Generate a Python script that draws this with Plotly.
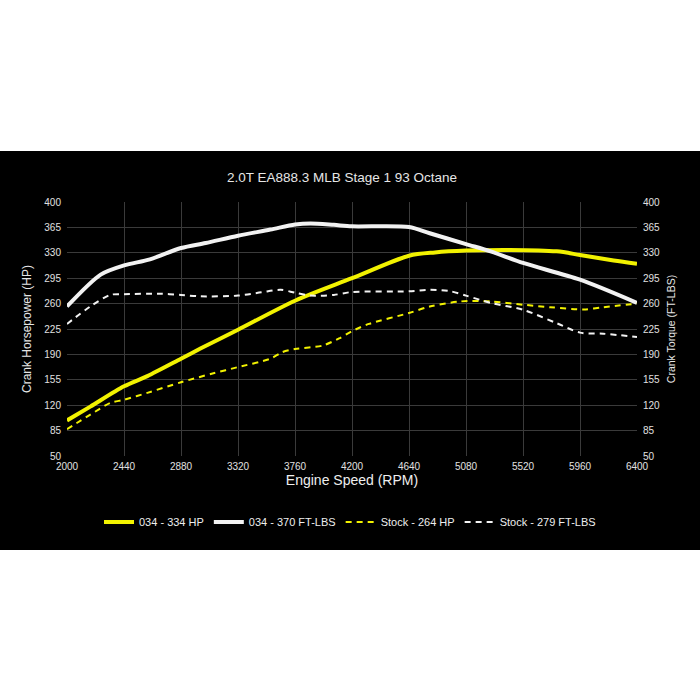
import plotly.graph_objects as go

rpm_hp034 = [2000, 2180, 2440, 2620, 2880, 3030, 3320, 3760, 4200, 4640, 4840, 5080, 5420, 5780, 5960, 6220, 6400]
hp034 = [99, 118, 146, 160, 184, 198, 224, 264, 295, 326, 330.5, 333, 334, 332, 327, 319.5, 315]

rpm_tq034 = [2000, 2260, 2440, 2640, 2880, 3070, 3320, 3570, 3760, 3880, 4060, 4200, 4640, 4800, 5080, 5270, 5520, 5960, 6400]
tq034 = [256, 300, 312.6, 321, 336.6, 343.5, 353.5, 362, 369, 370.5, 368.5, 366.5, 365.6, 357, 342, 332, 316, 293, 261]

rpm_hpstk = [2000, 2180, 2334, 2440, 2620, 2880, 3130, 3320, 3570, 3660, 3760, 3970, 4100, 4200, 4330, 4640, 4800, 5040, 5270, 5520, 5730, 5990, 6140, 6400]
hpstk = [87, 107, 123, 127.5, 137, 151.6, 164, 172.5, 184, 193, 197.5, 202, 212, 222, 232, 247, 256, 263, 263, 258.5, 255, 252, 255, 260]

rpm_tqstk = [2000, 2180, 2334, 2440, 2720, 2880, 3030, 3320, 3500, 3650, 3760, 3880, 4060, 4200, 4640, 4800, 4960, 5080, 5270, 5520, 5780, 5960, 6140, 6400]
tqstk = [232, 256, 272, 273, 273.5, 272, 270, 271, 275.5, 279, 275, 271, 272, 276, 277, 279, 277, 271, 261, 251.5, 233, 220, 218.5, 214]

x_ticks = [2000, 2440, 2880, 3320, 3760, 4200, 4640, 5080, 5520, 5960, 6400]
y_ticks = [50, 85, 120, 155, 190, 225, 260, 295, 330, 365, 400]

YEL = "#f2f200"
WHT = "#f2f2f2"

fig = go.Figure()
fig.add_trace(go.Scatter(x=rpm_hp034, y=hp034, mode="lines", name="034 - 334 HP",
                         line=dict(color=YEL, width=4, shape="spline", smoothing=0.8)))
fig.add_trace(go.Scatter(x=rpm_tq034, y=tq034, mode="lines", name="034 - 370 FT-LBS",
                         line=dict(color=WHT, width=4, shape="spline", smoothing=0.8)))
fig.add_trace(go.Scatter(x=rpm_hpstk, y=hpstk, mode="lines", name="Stock - 264 HP",
                         line=dict(color=YEL, width=2, dash="6px,5px", shape="spline", smoothing=0.8)))
fig.add_trace(go.Scatter(x=rpm_tqstk, y=tqstk, mode="lines", name="Stock - 279 FT-LBS",
                         line=dict(color=WHT, width=2, dash="6px,5px", shape="spline", smoothing=0.8)))
# invisible trace to activate right axis
fig.add_trace(go.Scatter(x=[2000, 6400], y=[50, 400], yaxis="y2", mode="lines",
                         line=dict(width=0), showlegend=False, hoverinfo="skip"))

L, R, T, B = 67, 63, 202, 244
ph = 700 - T - B
pw = 700 - L - R

fig.add_shape(type="rect", xref="paper", yref="paper",
              x0=-L / pw, x1=(700 - L) / pw,
              y0=-(550 - (700 - B)) / ph,
              y1=((700 - B) - 151) / ph,
              fillcolor="black", line_width=0, layer="below")

fig.update_layout(
    width=700, height=700,
    paper_bgcolor="white", plot_bgcolor="black",
    margin=dict(l=L, r=R, t=T, b=B),
    font=dict(family="Liberation Sans, Arial, sans-serif", color="#dddddd"),
    title=dict(text="2.0T EA888.3 MLB Stage 1 93 Octane", x=(342 - L) / pw, xref="paper",
               xanchor="center", y=1 - 177 / 700, yanchor="middle",
               font=dict(size=13.5, color="#e6e6e6")),
    xaxis=dict(range=[2000, 6400], tickvals=x_ticks, ticktext=[str(v) for v in x_ticks],
               showgrid=True, gridcolor="#3a3a3a", gridwidth=1, zeroline=False,
               showline=False, ticks="", tickfont=dict(size=10, color="#e0e0e0"),
               ticklabelstandoff=3,
               title=dict(text="Engine Speed (RPM)", font=dict(size=14, color="#eeeeee"), standoff=1)),
    yaxis=dict(range=[50, 400], tickvals=y_ticks, showgrid=True, gridcolor="#3a3a3a",
               zeroline=False, showline=False, ticks="", tickfont=dict(size=10, color="#e0e0e0"),
               ticklabelstandoff=5,
               title=dict(text="Crank Horsepower (HP)", font=dict(size=12, color="#e6e6e6"), standoff=10)),
    yaxis2=dict(range=[50, 400], tickvals=y_ticks, overlaying="y", side="right", showgrid=False,
                zeroline=False, showline=False, ticks="", tickfont=dict(size=10, color="#e0e0e0"),
                ticklabelstandoff=5,
                title=dict(text="Crank Torque (FT-LBS)", font=dict(size=10.5, color="#e6e6e6"), standoff=8)),
    legend=dict(orientation="h", x=(350 - L) / pw, xanchor="center", xref="paper",
                y=-(522 - (700 - B)) / ph, yanchor="middle", bgcolor="rgba(0,0,0,0)",
                font=dict(size=11, color="#eeeeee"), itemwidth=30, tracegroupgap=0),
    showlegend=True,
)

fig.write_html("out.html", config={"displayModeBar": False},
               post_script="document.body.style.margin='0';document.body.style.overflow='hidden';")
